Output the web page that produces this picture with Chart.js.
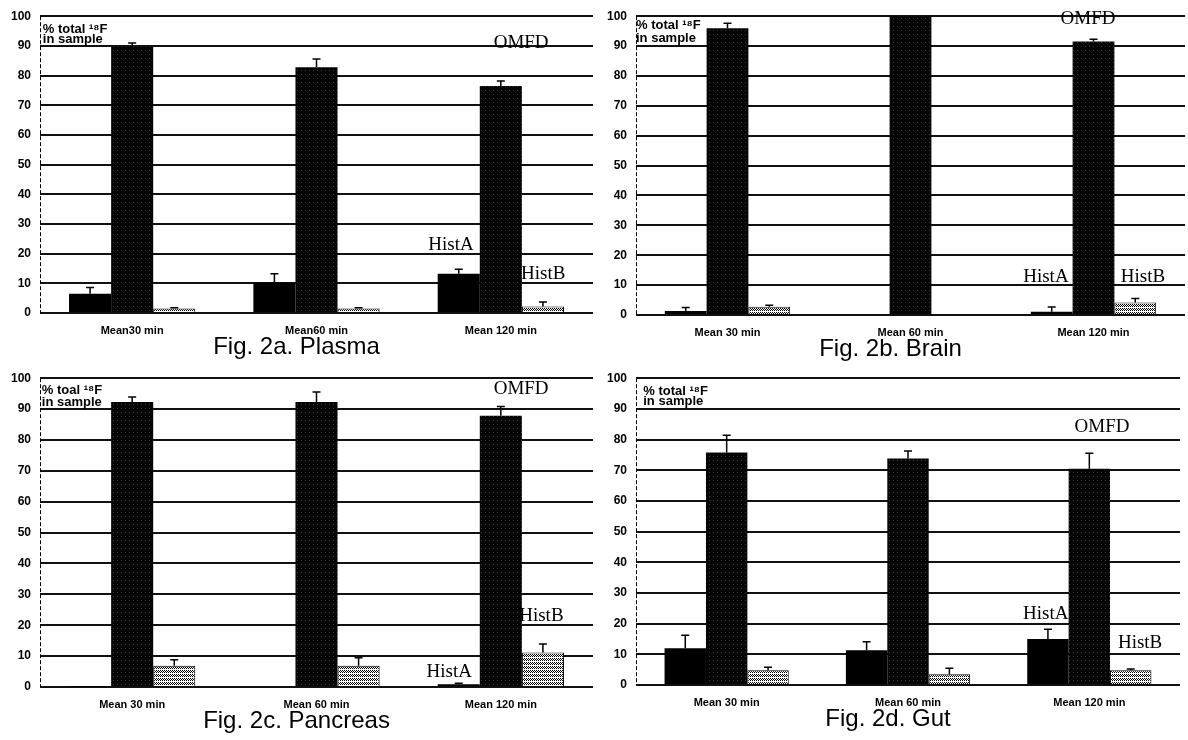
<!DOCTYPE html>
<html>
<head>
<meta charset="utf-8">
<script src="https://cdn.jsdelivr.net/npm/chart.js@4.4.1/dist/chart.umd.min.js"></script>
<style>
  body { margin: 0; background: #fff; }
  #wrap { position: relative; width: 1188px; height: 740px; overflow: hidden; }
  canvas { position: absolute; }
</style>
</head>
<body>
<div id="wrap">
  <canvas id="plasma" width="593" height="359" style="left:0;top:0"></canvas>
  <canvas id="brain" width="589" height="361" style="left:596px;top:0"></canvas>
  <canvas id="pancreas" width="593" height="371" style="left:0;top:362px"></canvas>
  <canvas id="gut" width="584" height="369" style="left:596px;top:362px"></canvas>
</div>
<script>
// categories
const plasmaLabels = ['Mean30 min', 'Mean60 min', 'Mean 120 min'];
const timeLabels = ['Mean 30 min', 'Mean 60 min', 'Mean 120 min'];

// Fig. 2a Plasma
const plasmaHistA = [6.5, 10.3, 13.2];
const plasmaHistAErr = [2.1, 2.9, 1.5];
const plasmaOMFD = [89.8, 82.8, 76.5];
const plasmaOMFDErr = [1.2, 2.8, 1.7];
const plasmaHistB = [1.5, 1.5, 2.2];
const plasmaHistBErr = [0.3, 0.3, 1.5];

// Fig. 2b Brain
const brainHistA = [1.3, 0, 1.1];
const brainHistAErr = [1.2, 0, 1.6];
const brainOMFD = [96, 100, 91.5];
const brainOMFDErr = [1.6, 0, 0.8];
const brainHistB = [2.8, 0, 4.2];
const brainHistBErr = [0.5, 0, 1.3];

// Fig. 2c Pancreas
const pancreasHistA = [0.2, 0.3, 0.9];
const pancreasHistAErr = [0, 0, 0.3];
const pancreasOMFD = [92.3, 92.3, 87.8];
const pancreasOMFDErr = [1.6, 3.2, 3.0];
const pancreasHistB = [6.9, 6.9, 11.2];
const pancreasHistBErr = [1.9, 2.6, 2.7];

// Fig. 2d Gut
const gutHistA = [12, 11.3, 15];
const gutHistAErr = [4.2, 2.8, 3.2];
const gutOMFD = [75.8, 73.8, 70.5];
const gutOMFDErr = [5.6, 2.5, 5.0];
const gutHistB = [4.8, 3.5, 4.8];
const gutHistBErr = [1.0, 2.0, 0.4];

const serif = '"Liberation Serif", "Times New Roman", serif';
const sans = '"Liberation Sans", Arial, sans-serif';

function makePattern(bg, fg, cells) {
  const c = document.createElement('canvas');
  c.width = 4; c.height = 4;
  const g = c.getContext('2d');
  g.fillStyle = bg;
  g.fillRect(0, 0, 4, 4);
  g.fillStyle = fg;
  cells.forEach(p => g.fillRect(p[0], p[1], 1, 1));
  return g.createPattern(c, 'repeat');
}
const omfdFill = makePattern('#050505', '#3a3a3a', [[1, 2]]);
const histBFill = makePattern('#ffffff', '#000000', [[0, 0], [2, 0], [1, 1], [3, 1], [0, 2], [2, 2]]);

// upward error bars with a small cap
const errorBars = {
  id: 'errorBars',
  afterDatasetsDraw(chart) {
    const ctx = chart.ctx;
    const y = chart.scales.y;
    ctx.save();
    ctx.strokeStyle = '#000';
    ctx.lineWidth = 1.5;
    chart.data.datasets.forEach((ds, di) => {
      const meta = chart.getDatasetMeta(di);
      meta.data.forEach((bar, i) => {
        const e = ds.errors[i];
        if (!e) return;
        const top = y.getPixelForValue(ds.data[i] + e);
        ctx.beginPath();
        ctx.moveTo(bar.x, bar.y);
        ctx.lineTo(bar.x, top);
        ctx.moveTo(bar.x - 4, top);
        ctx.lineTo(bar.x + 4, top);
        ctx.stroke();
      });
    });
    ctx.restore();
  }
};

// thin dashed y axis line
const dashedAxis = {
  id: 'dashedAxis',
  beforeDatasetsDraw(chart) {
    const ctx = chart.ctx;
    const a = chart.chartArea;
    ctx.save();
    ctx.strokeStyle = '#000';
    ctx.lineWidth = 1;
    ctx.setLineDash([4, 2]);
    ctx.beginPath();
    ctx.moveTo(a.left + 0.5, a.top);
    ctx.lineTo(a.left + 0.5, a.bottom);
    ctx.stroke();
    ctx.restore();
  }
};

// text labels placed in data coordinates
const notes = {
  id: 'notes',
  afterDraw(chart, args, opts) {
    const ctx = chart.ctx;
    const xs = chart.scales.x, ys = chart.scales.y;
    ctx.save();
    ctx.fillStyle = '#000';
    ctx.textBaseline = 'middle';
    (opts.items || []).forEach(n => {
      ctx.font = n.font;
      ctx.textAlign = n.align || 'center';
      ctx.fillText(n.text, xs.getPixelForValue(n.x), ys.getPixelForValue(n.y));
    });
    ctx.restore();
  }
};

function unitNotes(word, x, y1, y2) {
  const f = 'bold 13px ' + sans;
  return [
    { text: '% ' + word + ' \u00b9\u2078F', x: x, y: y1, font: f, align: 'left' },
    { text: 'in sample', x: x, y: y2, font: f, align: 'left' }
  ];
}

function makeChart(id, labels, a, aErr, o, oErr, b, bErr, title, padTop, items) {
  return new Chart(document.getElementById(id), {
    type: 'bar',
    data: {
      labels: labels,
      datasets: [
        { label: 'HistA', data: a, errors: aErr, backgroundColor: '#000', borderWidth: 0 },
        { label: 'OMFD', data: o, errors: oErr, backgroundColor: omfdFill, borderWidth: 0 },
        { label: 'HistB', data: b, errors: bErr, backgroundColor: histBFill, borderColor: '#000', borderWidth: 1 }
      ]
    },
    options: {
      responsive: false,
      animation: false,
      layout: { padding: { top: padTop, left: 0, right: 0, bottom: 0 } },
      datasets: { bar: { categoryPercentage: 0.685, barPercentage: 1 } },
      scales: {
        x: {
          grid: { display: false, drawTicks: false },
          border: { display: false },
          ticks: { color: '#000', padding: 11, maxRotation: 0, autoSkip: false, font: { family: sans, size: 11, weight: 'bold' } },
          afterFit(s) { s.height = 22; }
        },
        y: {
          min: 0,
          max: 100,
          grid: { color: '#111', lineWidth: 2, drawTicks: false },
          border: { display: false },
          ticks: { stepSize: 10, color: '#000', padding: 9, font: { family: sans, size: 12, weight: 'bold' } },
          afterFit(s) { s.width = 40; }
        }
      },
      plugins: {
        legend: { display: false },
        tooltip: { enabled: false },
        title: {
          display: true,
          text: title,
          position: 'bottom',
          color: '#000',
          padding: 0,
          font: { family: sans, size: 24, weight: 'normal', lineHeight: 1 }
        },
        notes: { items: items }
      }
    },
    plugins: [dashedAxis, errorBars, notes]
  });
}

const serifFont = '19px ' + serif;

makeChart('plasma', plasmaLabels, plasmaHistA, plasmaHistAErr, plasmaOMFD, plasmaOMFDErr,
  plasmaHistB, plasmaHistBErr, 'Fig. 2a. Plasma', 10,
  unitNotes('total', -0.485, 95.7, 92.2).concat([
    { text: 'OMFD', x: 2.11, y: 91, font: serifFont },
    { text: 'HistA', x: 1.73, y: 23, font: serifFont },
    { text: 'HistB', x: 2.23, y: 13.3, font: serifFont }
  ]));

makeChart('brain', timeLabels, brainHistA, brainHistAErr, brainOMFD, brainOMFDErr,
  brainHistB, brainHistBErr, 'Fig. 2b. Brain', 14,
  unitNotes('total', -0.5, 97, 92.6).concat([
    { text: 'OMFD', x: 1.97, y: 99, font: serifFont },
    { text: 'HistA', x: 1.74, y: 12.6, font: serifFont },
    { text: 'HistB', x: 2.27, y: 12.6, font: serifFont }
  ]));

makeChart('pancreas', timeLabels, pancreasHistA, pancreasHistAErr, pancreasOMFD, pancreasOMFDErr,
  pancreasHistB, pancreasHistBErr, 'Fig. 2c. Pancreas', 12,
  unitNotes('toal', -0.49, 96.2, 92).concat([
    { text: 'OMFD', x: 2.11, y: 96.5, font: serifFont },
    { text: 'HistA', x: 1.72, y: 4.8, font: serifFont },
    { text: 'HistB', x: 2.22, y: 23, font: serifFont }
  ]));

makeChart('gut', timeLabels, gutHistA, gutHistAErr, gutOMFD, gutOMFDErr,
  gutHistB, gutHistBErr, 'Fig. 2d. Gut', 12,
  unitNotes('total', -0.46, 95.8, 92.3).concat([
    { text: 'OMFD', x: 2.07, y: 84, font: serifFont },
    { text: 'HistA', x: 1.76, y: 23, font: serifFont },
    { text: 'HistB', x: 2.28, y: 13.8, font: serifFont }
  ]));
</script>
</body>
</html>
